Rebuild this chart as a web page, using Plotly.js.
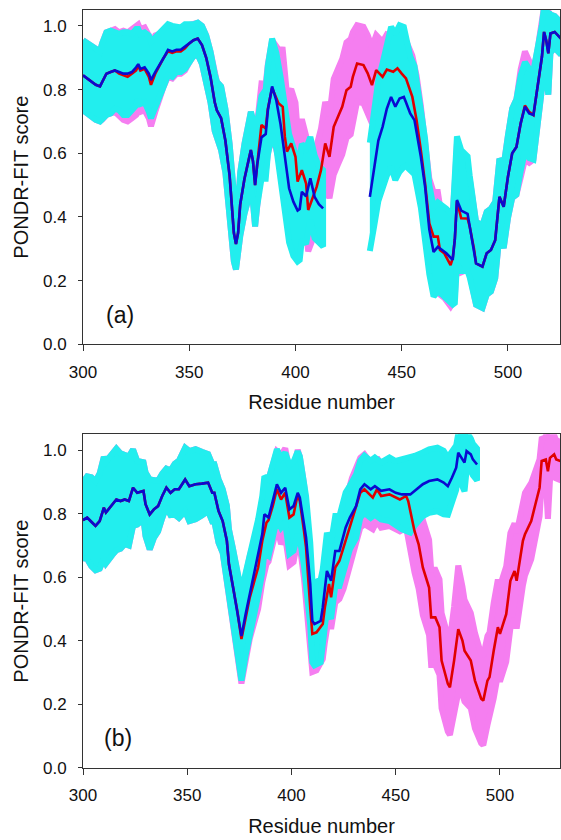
<!DOCTYPE html>
<html>
<head>
<meta charset="utf-8">
<script src="https://cdn.plot.ly/plotly-3.0.1.min.js"></script>
<style>html,body{margin:0;padding:0;background:#fff;}#chart{width:561px;height:840px;}</style>
</head>
<body>
<div id="chart"></div>
<script>
// ---------- Panel (a) ----------
const redAX = [300,302,304,306,308,309,311,313,315,317,319,321,323,325,326,327,329,331,332,334,336,338,340,342,344,346,348,350,352,354,356,358,360,362,363,365,367,369,371,372,373,374,376,378,379,380,381,382,384,386,387,389,391,392,394,395,396,398,400,401,403,405,406,408,410,412,414,416,418,420,422,424,426,427,429,432,434,436,438,441,443,446,448,450,452,455,457,459,461,463,465,467,468,470,473,474,475,476,478,481,482,484,485,488,490,492,494,496,498,500,502,504,506,508,510,512,514,516,517,518,519,520,522,525];
const redAY = [0.845,0.835,0.825,0.815,0.81,0.825,0.85,0.855,0.86,0.85,0.845,0.84,0.85,0.86,0.875,0.86,0.865,0.84,0.815,0.85,0.875,0.9,0.92,0.915,0.92,0.92,0.93,0.945,0.955,0.96,0.94,0.9,0.84,0.76,0.735,0.71,0.64,0.53,0.35,0.315,0.35,0.44,0.52,0.58,0.61,0.575,0.5,0.565,0.689,0.678,0.74,0.805,0.77,0.757,0.746,0.652,0.605,0.631,0.589,0.511,0.547,0.505,0.422,0.458,0.495,0.547,0.631,0.589,0.683,0.715,0.746,0.798,0.809,0.84,0.882,0.877,0.851,0.814,0.861,0.84,0.863,0.856,0.867,0.85,0.835,0.777,0.704,0.61,0.505,0.38,0.338,0.338,0.296,0.286,0.249,0.27,0.33,0.45,0.396,0.395,0.37,0.3,0.254,0.244,0.286,0.296,0.327,0.463,0.432,0.526,0.6,0.62,0.694,0.75,0.73,0.72,0.809,0.903,0.981,0.955,0.914,0.976,0.981,0.96];
const redAErr = [0.11,0.11,0.11,0.11,0.11,0.12,0.13,0.13,0.13,0.13,0.14,0.14,0.14,0.14,0.13,0.13,0.13,0.13,0.13,0.12,0.1,0.09,0.08,0.08,0.07,0.07,0.07,0.06,0.05,0.05,0.06,0.07,0.08,0.09,0.09,0.1,0.1,0.1,0.09,0.08,0.09,0.1,0.11,0.12,0.12,0.13,0.13,0.13,0.13,0.14,0.14,0.15,0.16,0.17,0.18,0.18,0.18,0.17,0.17,0.16,0.16,0.15,0.13,0.13,0.13,0.13,0.13,0.13,0.15,0.15,0.15,0.15,0.15,0.14,0.12,0.12,0.12,0.12,0.11,0.11,0.11,0.11,0.11,0.11,0.12,0.13,0.14,0.14,0.14,0.14,0.14,0.14,0.14,0.14,0.13,0.14,0.18,0.18,0.17,0.16,0.15,0.14,0.13,0.13,0.13,0.13,0.12,0.12,0.13,0.13,0.14,0.15,0.17,0.17,0.16,0.14,0.12,0.1,0.08,0.1,0.13,0.06,0.05,0.05];

const blueAX = [300,302,304,306,308,309,311,313,315,317,319,321,323,325,326,327,329,331,332,334,336,338,340,342,344,346,348,350,352,354,356,358,360,362,363,365,367,369,371,372,373,374,376,378,379,380,381,382,384,386,387,389,391,393,395,397,399,401,402,403,405,407,409,411,413,424,435,437,439,441,443,445,447,449,451,452,454,456,459,461,463,465,467,469,471,474,475,476,478,481,482,484,485,488,490,492,494,496,498,500,502,504,506,508,510,512,514,516,517,518,519,520,522,525];
const blueAY = [0.845,0.835,0.825,0.815,0.81,0.825,0.85,0.855,0.86,0.855,0.85,0.85,0.855,0.87,0.88,0.865,0.87,0.85,0.83,0.855,0.88,0.9,0.925,0.92,0.925,0.925,0.935,0.945,0.955,0.96,0.94,0.9,0.84,0.76,0.735,0.71,0.64,0.53,0.35,0.315,0.35,0.44,0.52,0.58,0.61,0.575,0.5,0.565,0.65,0.66,0.735,0.81,0.765,0.69,0.59,0.49,0.448,0.42,0.425,0.479,0.465,0.521,0.463,0.44,0.427,null,0.463,0.55,0.64,0.683,0.74,0.777,0.746,0.772,0.777,0.76,0.725,0.704,0.59,0.495,0.36,0.29,0.306,0.296,0.286,0.265,0.33,0.453,0.42,0.41,0.37,0.3,0.254,0.244,0.286,0.296,0.327,0.463,0.432,0.526,0.6,0.62,0.694,0.746,0.725,0.72,0.809,0.903,0.981,0.955,0.914,0.976,0.981,0.96];
const blueAErr = [0.11,0.11,0.11,0.11,0.11,0.12,0.13,0.13,0.12,0.12,0.13,0.13,0.12,0.12,0.11,0.11,0.11,0.12,0.12,0.11,0.1,0.09,0.08,0.08,0.07,0.07,0.07,0.06,0.05,0.05,0.06,0.07,0.08,0.09,0.09,0.1,0.1,0.1,0.09,0.08,0.09,0.1,0.11,0.12,0.12,0.13,0.13,0.13,0.13,0.14,0.14,0.15,0.15,0.15,0.16,0.17,0.17,0.16,0.16,0.15,0.15,0.13,0.13,0.12,0.12,null,0.17,0.18,0.19,0.2,0.21,0.22,0.23,0.23,0.22,0.2,0.18,0.17,0.16,0.15,0.14,0.14,0.14,0.14,0.14,0.14,0.2,0.2,0.19,0.18,0.16,0.14,0.13,0.13,0.13,0.13,0.12,0.12,0.13,0.13,0.14,0.15,0.15,0.14,0.14,0.14,0.12,0.1,0.08,0.1,0.13,0.06,0.05,0.05];

// ---------- Panel (b) ----------
const redBX = [300,302,304,306,308,310,311,314,316,318,320,322,324,326,329,330,332,334,336,338,340,342,344,346,349,351,354,357,360,362,363,365,367,369,370,372,374,376,380,384,386,388,389,391,393,395,397,399,401,403,404,406,407,409,410,412,415,416,418,419,421,423,425,427,429,431,433,435,439,441,443,447,450,452,455,456,459,461,463,466,467,469,471,472,475,476,478,480,482,483,486,488,491,492,494,495,497,499,500,503,505,507,508,511,512,515,517,519,520,522,523,524,526,527,529];
const redBY = [0.78,0.788,0.775,0.762,0.777,0.819,0.804,0.83,0.845,0.84,0.845,0.84,0.882,0.866,0.872,0.83,0.798,0.814,0.824,0.856,0.882,0.866,0.877,0.877,0.908,0.887,0.893,0.895,0.898,0.866,0.866,0.809,0.777,0.715,0.641,0.568,0.495,0.406,0.537,0.631,0.715,0.772,0.78,0.824,0.877,0.845,0.866,0.788,0.798,0.861,0.84,0.746,0.694,0.505,0.422,0.427,0.453,0.505,0.579,0.537,0.631,0.652,0.694,0.736,0.783,0.824,0.866,0.877,0.851,0.877,0.856,0.861,0.851,0.845,0.856,0.84,0.746,0.704,0.631,0.568,0.474,0.474,0.443,0.338,0.265,0.254,0.338,0.437,0.401,0.369,0.338,0.275,0.218,0.212,0.275,0.286,0.369,0.443,0.422,0.484,0.589,0.62,0.589,0.715,0.736,0.777,0.83,0.882,0.966,0.971,0.934,0.976,0.987,0.971,0.966];
const redBErr = [0.12,0.13,0.14,0.14,0.15,0.16,0.16,0.16,0.16,0.15,0.14,0.14,0.12,0.1,0.09,0.1,0.11,0.09,0.08,0.07,0.06,0.07,0.08,0.09,0.1,0.11,0.11,0.1,0.09,0.09,0.09,0.1,0.1,0.11,0.11,0.12,0.13,0.14,0.13,0.13,0.13,0.13,0.13,0.13,0.12,0.14,0.14,0.15,0.15,0.14,0.14,0.15,0.14,0.13,0.12,0.12,0.11,0.11,0.1,0.1,0.11,0.12,0.13,0.13,0.13,0.12,0.11,0.11,0.1,0.1,0.1,0.1,0.1,0.1,0.1,0.11,0.13,0.14,0.15,0.15,0.15,0.15,0.15,0.15,0.15,0.15,0.17,0.2,0.17,0.16,0.15,0.15,0.14,0.14,0.14,0.14,0.15,0.15,0.15,0.15,0.15,0.15,0.15,0.14,0.13,0.12,0.1,0.09,0.07,0.07,0.15,0.07,0.06,0.06,0.06];

const blueBX = [300,302,304,306,308,310,311,314,316,318,320,322,324,326,329,330,332,334,336,338,340,342,344,346,349,351,354,357,360,362,363,365,367,369,370,372,374,376,378,380,383,384,386,387,389,391,393,395,397,399,401,403,404,406,407,409,410,411,414,415,417,419,421,423,426,428,431,433,435,438,440,443,447,450,453,457,459,463,466,470,473,475,477,479,480,481,483,484,486,487,489];
const blueBY = [0.78,0.788,0.775,0.762,0.777,0.819,0.804,0.83,0.845,0.84,0.845,0.84,0.882,0.866,0.872,0.83,0.798,0.814,0.824,0.856,0.882,0.866,0.877,0.877,0.908,0.887,0.893,0.895,0.898,0.866,0.866,0.809,0.777,0.715,0.641,0.568,0.495,0.415,0.484,0.547,0.631,0.662,0.736,0.798,0.788,0.84,0.893,0.866,0.882,0.814,0.824,0.866,0.851,0.767,0.725,0.579,0.463,0.453,0.463,0.505,0.62,0.589,0.683,0.683,0.757,0.788,0.824,0.877,0.893,0.877,0.887,0.872,0.877,0.866,0.861,0.861,0.872,0.893,0.903,0.908,0.898,0.887,0.914,0.945,0.992,0.981,0.961,0.997,0.987,0.971,0.955];
const blueBErr = [0.12,0.13,0.14,0.14,0.15,0.16,0.16,0.16,0.16,0.15,0.14,0.14,0.12,0.1,0.09,0.1,0.11,0.09,0.08,0.07,0.06,0.07,0.08,0.09,0.1,0.11,0.11,0.1,0.09,0.09,0.09,0.1,0.1,0.11,0.11,0.12,0.13,0.14,0.13,0.12,0.12,0.12,0.12,0.12,0.12,0.12,0.11,0.11,0.11,0.14,0.14,0.13,0.13,0.13,0.13,0.13,0.13,0.13,0.13,0.12,0.12,0.12,0.11,0.11,0.11,0.1,0.1,0.09,0.09,0.09,0.09,0.09,0.1,0.1,0.11,0.12,0.11,0.1,0.1,0.1,0.1,0.09,0.08,0.07,0.06,0.08,0.09,0.06,0.05,0.05,0.05];

const xTicks = [300,350,400,450,500];
const yTicks = [0.0,0.2,0.4,0.6,0.8,1.0];
const panelLabels = ['(a)','(b)'];
const xTitle = 'Residue number';
const yTitle = 'PONDR-FIT score';

const CYAN = '#22eeee', MAGENTA = '#f57ef0', RED = '#e00000', BLUE = '#0a0ad0';
const FONT = 'Arial, "Liberation Sans", sans-serif';

function band(x, y, e, color, xa, ya) {
  // closed polygon(s) from value +/- error, split on gaps
  const px = [], py = [];
  let seg = [];
  const flush = () => {
    if (!seg.length) return;
    if (px.length) { px.push(null); py.push(null); }
    seg.forEach(i => { px.push(x[i]); py.push(y[i] + e[i]); });
    seg.slice().reverse().forEach(i => { px.push(x[i]); py.push(y[i] - e[i]); });
    seg = [];
  };
  for (let i = 0; i < x.length; i++) {
    if (y[i] === null) flush(); else seg.push(i);
  }
  flush();
  return {x: px, y: py, xaxis: xa, yaxis: ya, type: 'scatter', mode: 'lines',
          fill: 'toself', fillcolor: color, line: {color: color, width: 6},
          hoverinfo: 'skip', showlegend: false};
}
function line(x, y, color, xa, ya) {
  return {x: x, y: y, xaxis: xa, yaxis: ya, type: 'scatter', mode: 'lines',
          line: {color: color, width: 2.6}, connectgaps: false, showlegend: false};
}

const traces = [
  band(redAX, redAY, redAErr, MAGENTA, 'x', 'y'),
  band(blueAX, blueAY, blueAErr, CYAN, 'x', 'y'),
  line(redAX, redAY, RED, 'x', 'y'),
  line(blueAX, blueAY, BLUE, 'x', 'y'),
  band(redBX, redBY, redBErr, MAGENTA, 'x2', 'y2'),
  band(blueBX, blueBY, blueBErr, CYAN, 'x2', 'y2'),
  line(redBX, redBY, RED, 'x2', 'y2'),
  line(blueBX, blueBY, BLUE, 'x2', 'y2')
];

function xAxis(anchor, range) {
  return {anchor: anchor, domain: [0, 1], range: range, tickvals: xTicks, ticks: 'outside',
          ticklen: 6, tickwidth: 1, tickcolor: '#333', showline: true, linecolor: '#333',
          linewidth: 1, mirror: true, showgrid: false, zeroline: false,
          ticklabelstandoff: 6,
          tickfont: {family: FONT, size: 17, color: '#111'},
          title: {text: xTitle, font: {family: FONT, size: 20, color: '#111'}, standoff: 14}};
}
function yAxis(anchor, domain) {
  return {anchor: anchor, domain: domain, range: [0, 1.05], tickvals: yTicks, tickformat: '.1f',
          ticks: 'outside', ticklen: 4, tickwidth: 1, tickcolor: '#333', showline: true,
          linecolor: '#333', linewidth: 1, mirror: true, showgrid: false, zeroline: false,
          ticklabelstandoff: 8,
          tickfont: {family: FONT, size: 17, color: '#111'},
          title: {text: yTitle, font: {family: FONT, size: 20, color: '#111'}, standoff: 8}};
}

const layout = {
  width: 561, height: 840,
  margin: {l: 83, r: 1, t: 10, b: 72},
  paper_bgcolor: '#fff', plot_bgcolor: '#fff',
  showlegend: false,
  xaxis: xAxis('y', [300, 524.5]),
  yaxis: yAxis('x', [0.559, 1]),
  xaxis2: xAxis('y2', [300, 528.8]),
  yaxis2: yAxis('x2', [0, 0.4402]),
  annotations: [
    {xref: 'x', yref: 'y', x: 317.5, y: 0.092, text: panelLabels[0], showarrow: false,
     font: {family: FONT, size: 23, color: '#111'}},
    {xref: 'x2', yref: 'y2', x: 317, y: 0.095, text: panelLabels[1], showarrow: false,
     font: {family: FONT, size: 23, color: '#111'}}
  ]
};

Plotly.newPlot('chart', traces, layout, {displayModeBar: false, staticPlot: true});
</script>
</body>
</html>
